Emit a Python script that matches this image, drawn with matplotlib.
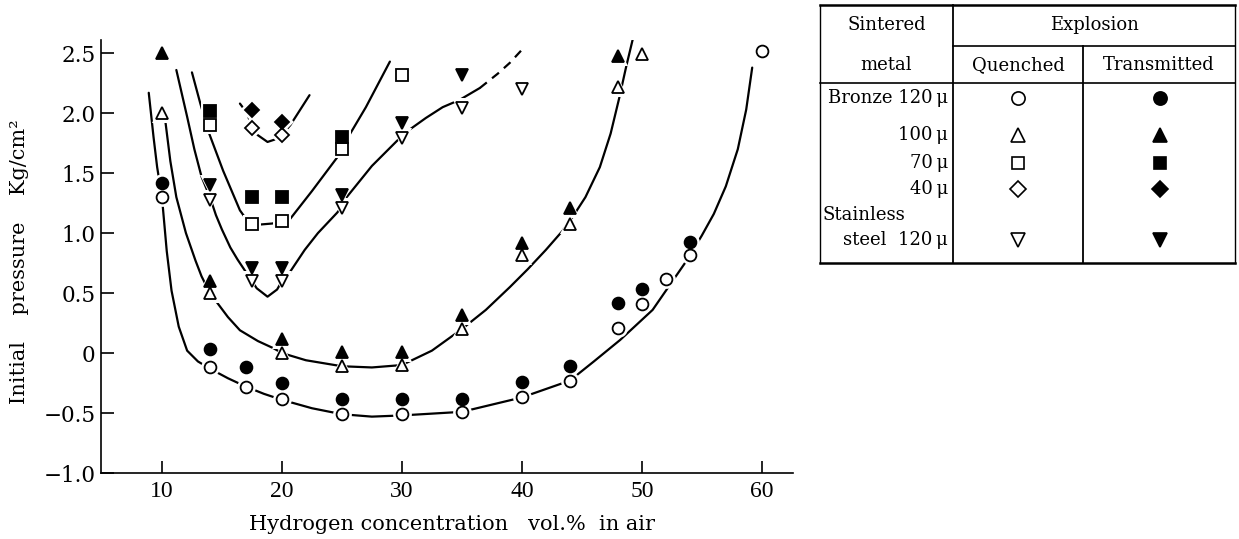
import matplotlib
matplotlib.use("Agg")
import matplotlib.pyplot as plt
from matplotlib.lines import Line2D

# --- measured points (x = H2 vol.%, y = initial pressure kg/cm2) ---
# Bronze 120 micron
b120_q_x = [10, 14, 17, 20, 25, 30, 35, 40, 44, 48, 50, 52, 54, 60]
b120_q_y = [1.30, -0.12, -0.28, -0.38, -0.51, -0.51, -0.49, -0.37, -0.23, 0.21, 0.41, 0.62, 0.82, 2.52]
b120_t_x = [10, 14, 17, 20, 25, 30, 35, 40, 44, 48, 50, 54]
b120_t_y = [1.42, 0.03, -0.12, -0.25, -0.38, -0.38, -0.38, -0.24, -0.11, 0.42, 0.53, 0.93]
# Bronze 100 micron
b100_q_x = [10, 14, 20, 25, 30, 35, 40, 44, 48, 50]
b100_q_y = [2.00, 0.50, 0.00, -0.11, -0.10, 0.20, 0.82, 1.08, 2.22, 2.49]
b100_t_x = [10, 14, 20, 25, 30, 35, 40, 44, 48]
b100_t_y = [2.50, 0.60, 0.12, 0.01, 0.01, 0.32, 0.92, 1.21, 2.48]
# Bronze 70 micron
b70_q_x = [14, 17.5, 20, 25, 30]
b70_q_y = [1.90, 1.08, 1.10, 1.70, 2.32]
b70_t_x = [14, 17.5, 20, 25]
b70_t_y = [2.02, 1.30, 1.30, 1.80]
# Bronze 40 micron
b40_q_x = [17.5, 20]
b40_q_y = [1.88, 1.82]
b40_t_x = [17.5, 20]
b40_t_y = [2.03, 1.93]
# Stainless steel 120 micron
ss_q_x = [14, 17.5, 20, 25, 30, 35, 40]
ss_q_y = [1.28, 0.60, 0.60, 1.21, 1.79, 2.04, 2.20]
ss_t_x = [14, 17.5, 20, 25, 30, 35]
ss_t_y = [1.40, 0.71, 0.71, 1.32, 1.92, 2.32]

# --- hand drawn limit curves ---
curve_a_x = [8.9, 9.3, 9.6, 10.0, 10.4, 10.8, 11.4, 12.1, 13.0, 14.0, 15.5, 17.0, 18.5, 20.0,
             22.5, 25.0, 27.5, 30.0, 35.0, 40.0, 44.0, 46.0, 48.2, 50.9, 53.8, 55.0, 56.0, 57.0,
             58.0, 58.7, 59.2]
curve_a_y = [2.17, 1.80, 1.55, 1.30, 0.85, 0.52, 0.22, 0.02, -0.07, -0.13, -0.21, -0.28, -0.34, -0.39,
             -0.46, -0.51, -0.53, -0.52, -0.49, -0.37, -0.23, -0.07, 0.11, 0.36, 0.78, 0.98, 1.16, 1.39,
             1.70, 2.03, 2.38]
curve_b_x = [10.3, 10.7, 11.2, 12.0, 12.8, 13.3, 14.0, 14.6, 15.5, 16.5, 18.0, 19.3, 20.0, 22.0,
             25.0, 27.5, 30.0, 32.5, 35.0, 37.0, 39.0, 40.5, 42.0, 43.4, 44.2, 45.3, 46.5, 47.4,
             48.1, 48.7, 49.3]
curve_b_y = [1.92, 1.60, 1.30, 1.00, 0.77, 0.64, 0.50, 0.42, 0.30, 0.19, 0.10, 0.04, 0.00, -0.06,
             -0.11, -0.12, -0.10, 0.02, 0.20, 0.36, 0.55, 0.70, 0.86, 1.02, 1.13, 1.30, 1.55, 1.83,
             2.12, 2.39, 2.64]
curve_c_x = [11.2, 12.1, 12.7, 13.3, 14.0, 14.5, 15.0, 15.7, 16.3, 17.1, 17.5, 17.9, 18.8, 19.6, 20.0,
             20.7, 21.9, 23.0, 24.6, 25.0, 25.4, 27.5, 29.6, 30.6, 32.0, 33.4, 34.8, 36.5]
curve_c_y = [2.36, 1.97, 1.70, 1.47, 1.30, 1.15, 1.03, 0.88, 0.78, 0.66, 0.60, 0.54, 0.47, 0.53, 0.60,
             0.68, 0.86, 1.00, 1.17, 1.22, 1.30, 1.56, 1.77, 1.86, 1.96, 2.05, 2.11, 2.21]
curve_c_dash_x = [36.5, 38.0, 39.0, 40.2]
curve_c_dash_y = [2.21, 2.33, 2.42, 2.55]
curve_d_x = [12.5, 13.2, 13.9, 15.1, 16.5, 17.0, 17.5, 18.0, 19.2, 20.0, 20.7, 22.5, 24.6, 25.0, 25.4, 27.0, 29.0]
curve_d_y = [2.34, 2.08, 1.84, 1.52, 1.19, 1.12, 1.08, 1.07, 1.08, 1.10, 1.12, 1.35, 1.63, 1.70, 1.78, 2.05, 2.43]
curve_e_x = [16.5, 17.1, 17.5, 17.8, 18.8, 19.4, 20.0, 20.7, 22.3]
curve_e_y = [2.08, 2.00, 1.88, 1.83, 1.76, 1.78, 1.82, 1.90, 2.15]

x_ticks = [10, 20, 30, 40, 50, 60]
y_ticks = [-1.0, -0.5, 0, 0.5, 1.0, 1.5, 2.0, 2.5]
y_tick_labels = ["\u22121.0", "\u22120.5", "0", "0.5", "1.0", "1.5", "2.0", "2.5"]

legend_rows = ["Bronze 120\u2009\u03bc", "100\u2009\u03bc", "70\u2009\u03bc", "40\u2009\u03bc",
               "steel  120\u2009\u03bc"]

series = [
    (b120_q_x, b120_q_y, "o", False),
    (b120_t_x, b120_t_y, "o", True),
    (b100_q_x, b100_q_y, "^", False),
    (b100_t_x, b100_t_y, "^", True),
    (b70_q_x, b70_q_y, "s", False),
    (b70_t_x, b70_t_y, "s", True),
    (b40_q_x, b40_q_y, "D", False),
    (b40_t_x, b40_t_y, "D", True),
    (ss_q_x, ss_q_y, "v", False),
    (ss_t_x, ss_t_y, "v", True),
]
msize = {"o": 8.5, "^": 9, "s": 8, "D": 7, "v": 9}

fig = plt.figure(figsize=(12.39, 5.39), dpi=100, facecolor="white")
ax = fig.add_axes([101 / 1239, 66 / 539, 692 / 1239, 433 / 539])

# curves
for cx, cy in [(curve_a_x, curve_a_y), (curve_b_x, curve_b_y), (curve_c_x, curve_c_y),
               (curve_d_x, curve_d_y), (curve_e_x, curve_e_y)]:
    ax.plot(cx, cy, color="black", lw=1.6, zorder=2, solid_capstyle="round", solid_joinstyle="round")
ax.plot(curve_c_dash_x, curve_c_dash_y, color="black", lw=1.6, ls=(0, (4, 3)), zorder=2)

# white halos to break curves at the markers, then the markers
for sx, sy, m, filled in series:
    ax.plot(sx, sy, ls="none", marker=m, ms=msize[m] + 5, mfc="white", mec="white", mew=0, zorder=3)
for sx, sy, m, filled in series:
    ax.plot(sx, sy, ls="none", marker=m, ms=msize[m], mfc="black" if filled else "white",
            mec="black", mew=1.3, zorder=4)

ax.set_xlim(4.92, 62.6)
ax.set_ylim(-1.0, 2.61)
ax.spines["top"].set_visible(False)
ax.spines["right"].set_visible(False)
ax.spines["left"].set_linewidth(1.2)
ax.spines["bottom"].set_linewidth(1.2)
ax.set_xticks(x_ticks)
ax.set_xticklabels([str(v) for v in x_ticks], fontfamily="Liberation Serif", fontsize=17)
ax.set_yticks(y_ticks)
ax.set_yticklabels(y_tick_labels, fontfamily="DejaVu Serif", fontsize=15.5)
ax.tick_params(axis="both", direction="in", length=9, width=1.2, pad=4)
ax.tick_params(axis="x", pad=6)

fig.text(20 / 1239, 1 - 262 / 539, "Initial    pressure    Kg/cm\u00b2", rotation=90,
         ha="center", va="center", fontfamily="DejaVu Serif", fontsize=15)
fig.text(452 / 1239, 1 - 524 / 539, "Hydrogen concentration   vol.%  in air",
         ha="center", va="center", fontfamily="DejaVu Serif", fontsize=15)

# --- legend table (pixel coordinates) ---
lg = fig.add_axes([0, 0, 1, 1])
lg.set_xlim(0, 1239)
lg.set_ylim(539, 0)
lg.axis("off")
lg.patch.set_visible(False)

L, R, T, B = 820, 1235, 5, 263
c1, c2 = 953, 1083
for xs, ys, w in [([L, R], [T, T], 1.8), ([L, R], [B, B], 1.8), ([L, L], [T, B], 1.0),
                  ([R, R], [T, B], 1.0), ([L, R], [83, 83], 1.2), ([c1, R], [46, 46], 1.2),
                  ([c1, c1], [T, B], 1.3), ([c2, c2], [46, B], 1.3)]:
    lg.add_line(Line2D(xs, ys, color="black", lw=w))

tf = dict(fontfamily="DejaVu Serif", fontsize=13, va="center")
lg.text((L + c1) / 2, 25, "Sintered", ha="center", **tf)
lg.text((L + c1) / 2, 65, "metal", ha="center", **tf)
lg.text((c1 + R) / 2, 25, "Explosion", ha="center", **tf)
lg.text((c1 + c2) / 2, 65, "Quenched", ha="center", **tf)
lg.text((c2 + R) / 2, 65, "Transmitted", ha="center", **tf)

row_y = [98, 135, 163, 189, 240]
for label, ry in zip(legend_rows, row_y):
    lg.text(948, ry, label, ha="right", **tf)
lg.text(822, 215, "Stainless", ha="left", **tf)

legend_markers = ["o", "^", "s", "D", "v"]
for m, ry in zip(legend_markers, row_y):
    lg.plot([1018], [ry], ls="none", marker=m, ms=msize[m] + 1, mfc="white", mec="black", mew=1.2)
    lg.plot([1160], [ry], ls="none", marker=m, ms=msize[m] + 1, mfc="black", mec="black", mew=1.2)

fig.savefig("out.png", dpi=100, facecolor="white")
